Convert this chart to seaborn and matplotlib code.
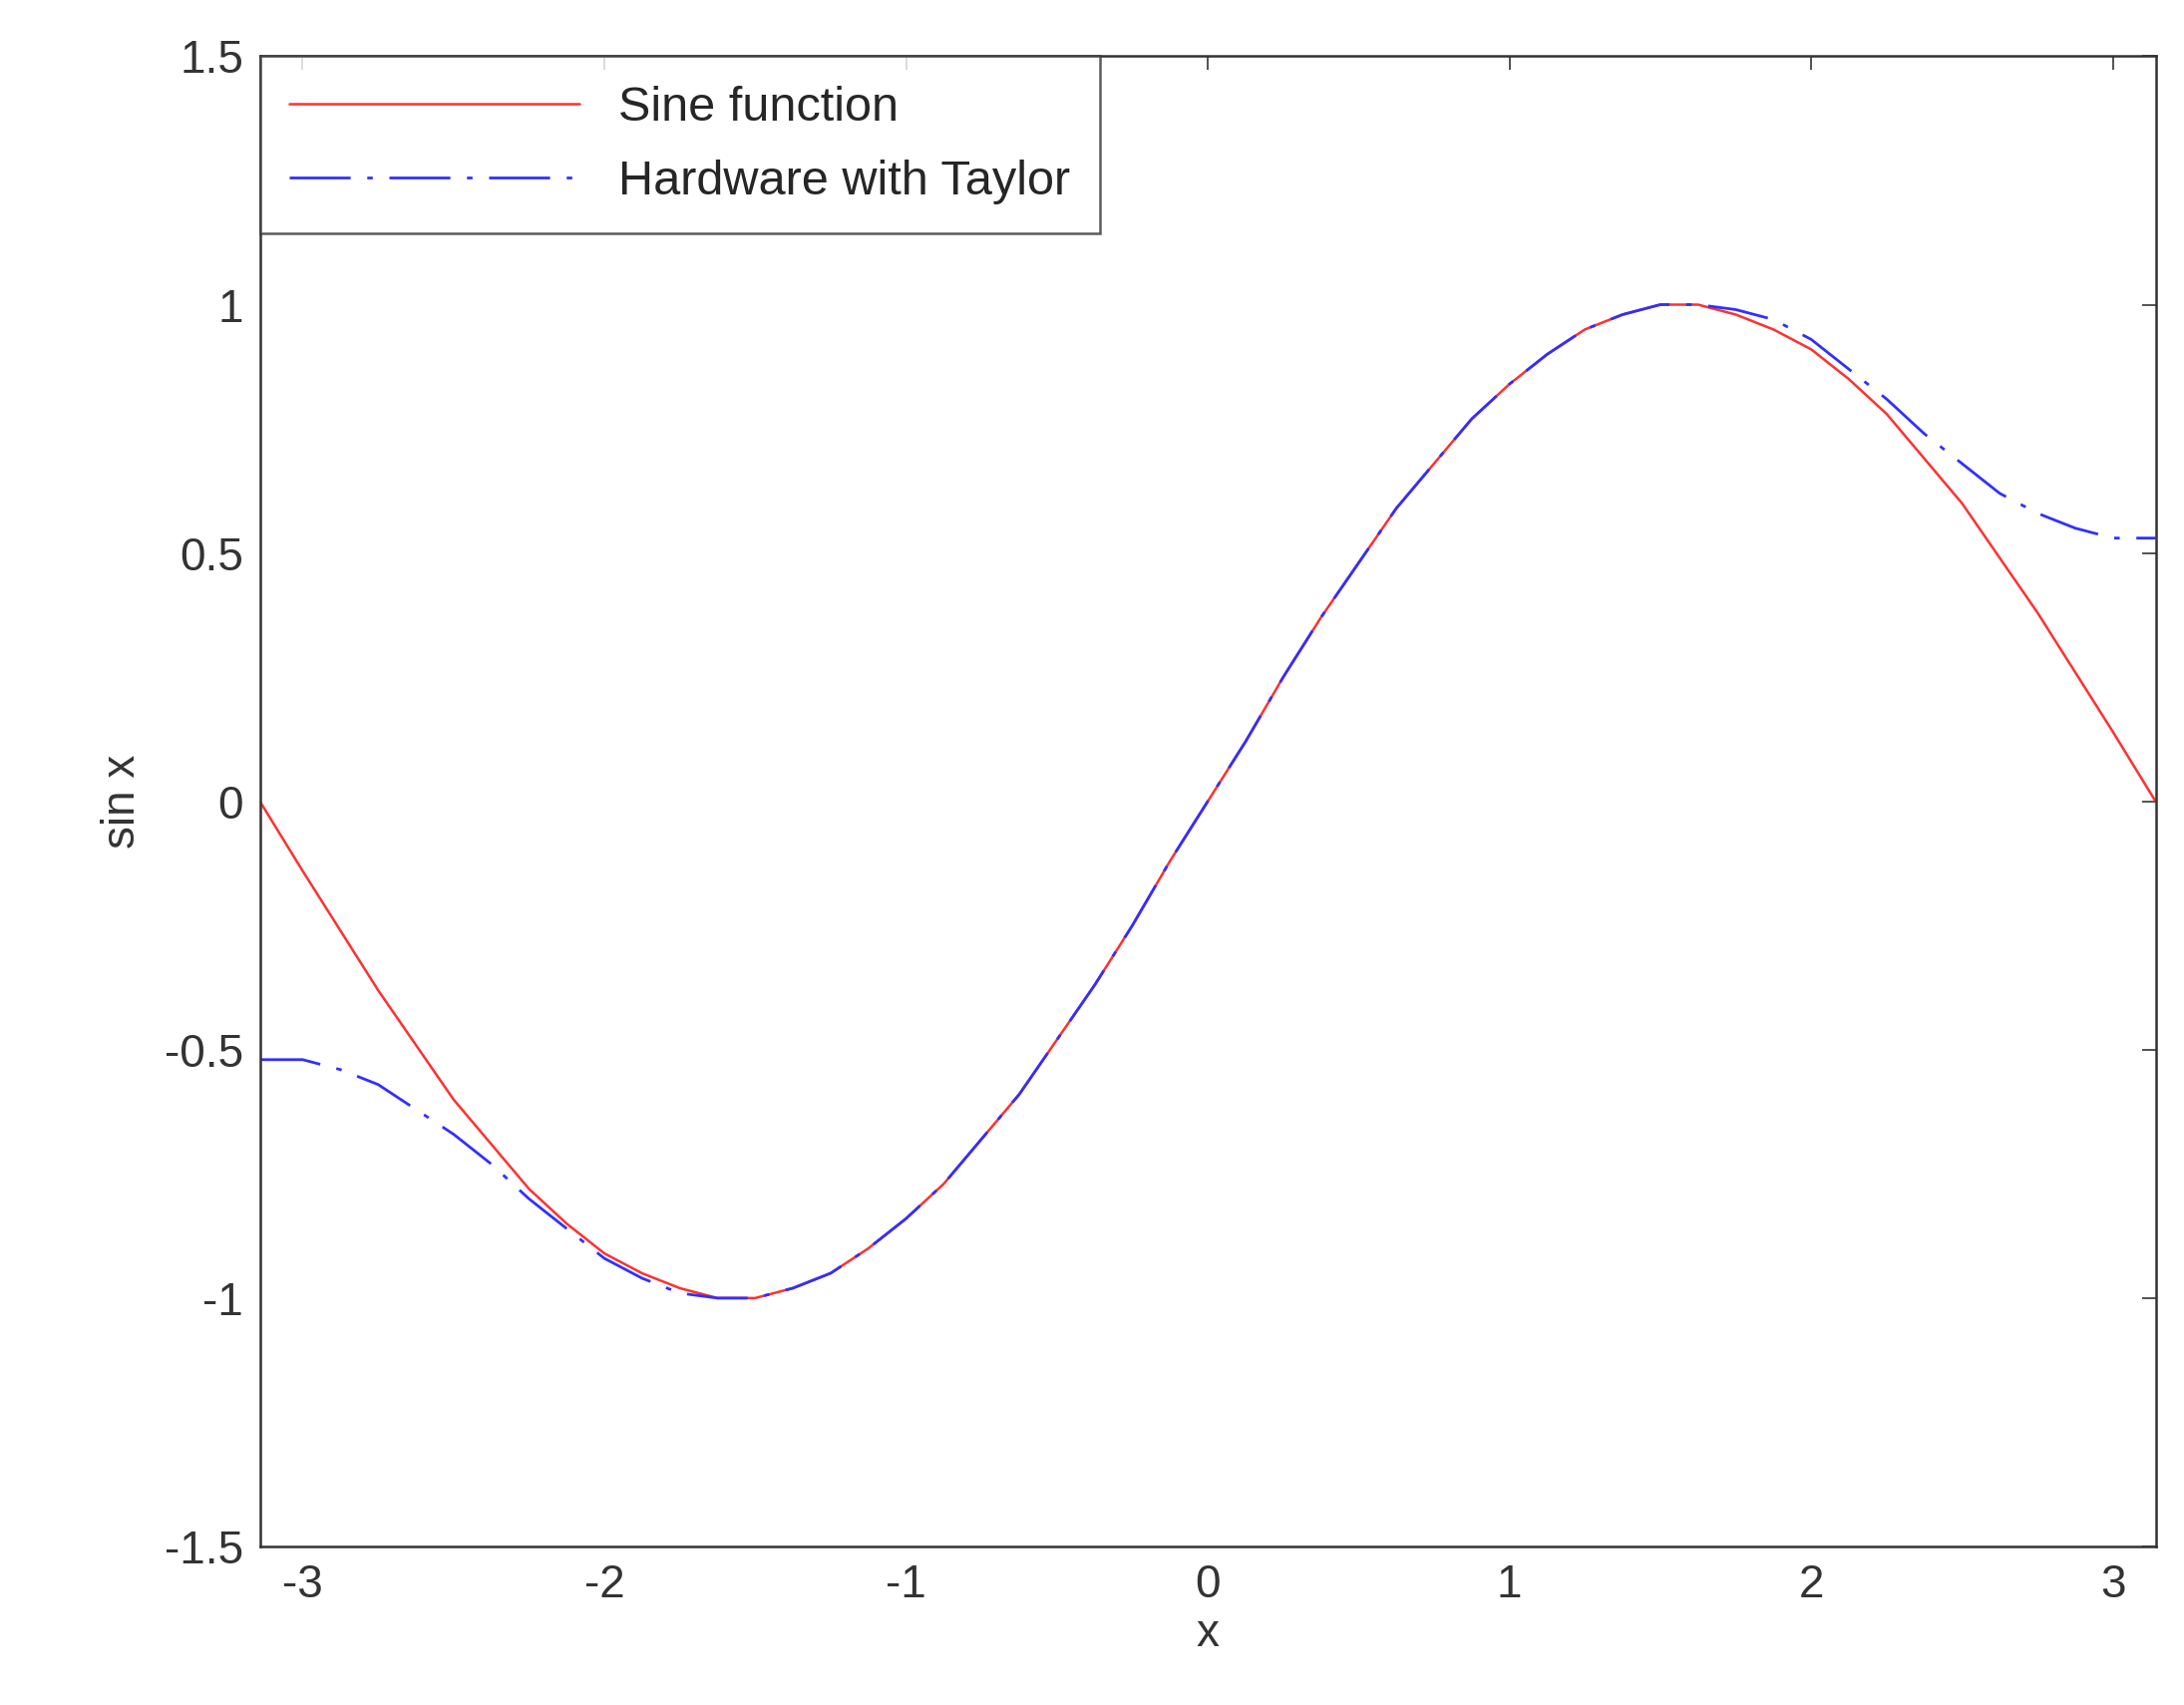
import numpy as np
import pandas as pd
import seaborn as sns
import matplotlib
matplotlib.use("Agg")
import matplotlib.pyplot as plt

x_vals = [-3.1416, -3.0, -2.875, -2.75, -2.625, -2.5, -2.375, -2.25, -2.125, -2.0, -1.875, -1.75, -1.625, -1.5708,
          -1.5, -1.375, -1.25, -1.125, -1.0, -0.875, -0.75, -0.625, -0.5, -0.375, -0.25, -0.125, 0.0,
          0.125, 0.25, 0.375, 0.5, 0.625, 0.75, 0.875, 1.0, 1.125, 1.25, 1.375, 1.5, 1.5708,
          1.625, 1.75, 1.875, 2.0, 2.125, 2.25, 2.375, 2.5, 2.625, 2.75, 2.875, 3.0, 3.1416]
sine_vals = [0.0, -0.14, -0.26, -0.38, -0.49, -0.60, -0.69, -0.78, -0.85, -0.91, -0.95, -0.98, -1.0, -1.0,
             -1.0, -0.98, -0.95, -0.90, -0.84, -0.77, -0.68, -0.59, -0.48, -0.37, -0.25, -0.12, 0.0,
             0.12, 0.25, 0.37, 0.48, 0.59, 0.68, 0.77, 0.84, 0.90, 0.95, 0.98, 1.0, 1.0,
             1.0, 0.98, 0.95, 0.91, 0.85, 0.78, 0.69, 0.60, 0.49, 0.38, 0.26, 0.14, 0.0]
taylor_vals = [-0.52, -0.52, -0.54, -0.57, -0.62, -0.67, -0.73, -0.80, -0.86, -0.92, -0.96, -0.99, -1.0, -1.0,
               -1.0, -0.98, -0.95, -0.90, -0.84, -0.77, -0.68, -0.59, -0.48, -0.37, -0.25, -0.12, 0.0,
               0.12, 0.25, 0.37, 0.48, 0.59, 0.68, 0.77, 0.84, 0.90, 0.95, 0.98, 1.0, 1.0,
               1.0, 0.99, 0.97, 0.93, 0.87, 0.81, 0.74, 0.68, 0.62, 0.58, 0.55, 0.53, 0.53]

x_ticks = [-3, -2, -1, 0, 1, 2, 3]
x_ticklabels = ["-3", "-2", "-1", "0", "1", "2", "3"]
y_ticks = [-1.5, -1, -0.5, 0, 0.5, 1, 1.5]
y_ticklabels = ["-1.5", "-1", "-0.5", "0", "0.5", "1", "1.5"]

sns.set_style("white")
plt.rcParams['font.family'] = ['Liberation Sans', 'DejaVu Sans']
fig, ax = plt.subplots(figsize=(21.9, 17.1), dpi=100)
fig.subplots_adjust(left=0.119, right=0.987, top=0.967, bottom=0.093)

df = pd.DataFrame({"x": x_vals, "sine": sine_vals, "taylor": taylor_vals})
sns.lineplot(data=df, x="x", y="sine", ax=ax, color="#ff3030", lw=1.8, label="Sine function")
sns.lineplot(data=df, x="x", y="taylor", ax=ax, color="#3030ff", lw=2.0,
             linestyle=(0, (22, 6, 2, 6)), label="Hardware with Taylor")

ax.set_xlim(-np.pi, np.pi)
ax.set_ylim(-1.5, 1.5)
ax.set_xticks(x_ticks)
ax.set_xticklabels(x_ticklabels)
ax.set_yticks(y_ticks)
ax.set_yticklabels(y_ticklabels)
ax.tick_params(direction="in", length=10, width=1.2, top=True, right=True, labelsize=33, colors="#333333", pad=12)
for s in ax.spines.values():
    s.set_color("#333333"); s.set_linewidth(1.8)
ax.set_xlabel("x", fontsize=33, color="#333333", labelpad=4)
ax.set_ylabel("sin x", fontsize=33, color="#333333", labelpad=14)
leg = ax.legend(loc="upper left", fontsize=35, frameon=True, fancybox=False, handlelength=6,
                borderaxespad=0, edgecolor="#333333", borderpad=0.6, labelspacing=0.6, handletextpad=0.8)
leg.get_frame().set_linewidth(1.8)
fig.savefig("out.png", dpi=100)
